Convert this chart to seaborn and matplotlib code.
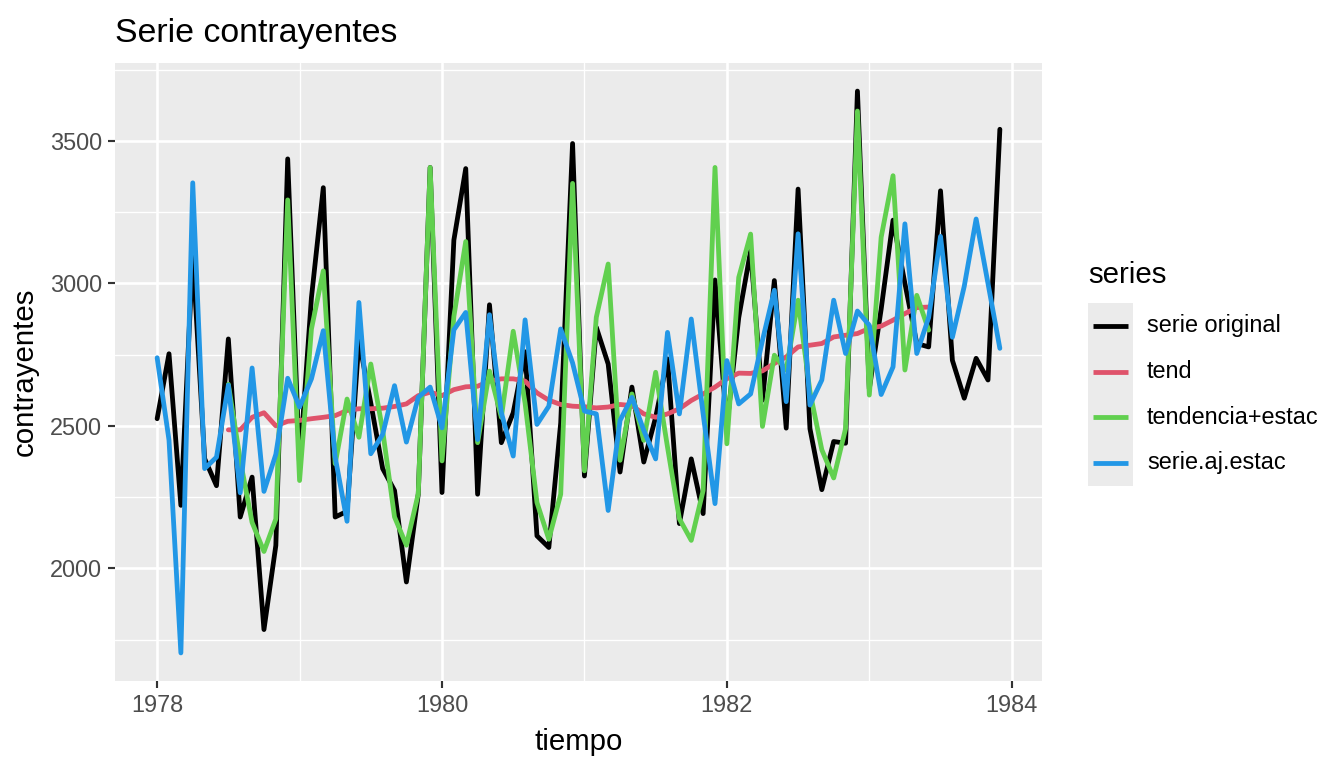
import numpy as np
import pandas as pd
import matplotlib
matplotlib.use("Agg")
import matplotlib.pyplot as plt
from matplotlib.lines import Line2D
from matplotlib.patches import Rectangle
from matplotlib.ticker import MultipleLocator
import seaborn as sns

# ---------------- data ----------------
start_year = 1978
n_months = 72

serie_original = [
    2525, 2753, 2221, 3100, 2385, 2290, 2805, 2180, 2320, 1785, 2080, 3437,
    2360, 2950, 3336, 2180, 2200, 2800, 2580, 2350, 2273, 1952, 2260, 3407,
    2266, 3152, 3403, 2260, 2925, 2441, 2546, 2760, 2114, 2073, 2510, 3491,
    2324, 2846, 2717, 2338, 2636, 2373, 2530, 2735, 2157, 2384, 2192, 3012,
    2500, 2880, 3114, 2590, 3010, 2492, 3331, 2490, 2276, 2445, 2439, 3675,
    2630, 2910, 3222, 3000, 2789, 2777, 3325, 2730, 2597, 2737, 2661, 3541,
]

serie_aj_estac = [
    2739, 2450, 1703, 3353, 2350, 2390, 2643, 2265, 2703, 2270, 2400, 2667,
    2566, 2665, 2834, 2390, 2165, 2933, 2402, 2470, 2641, 2443, 2600, 2636,
    2493, 2837, 2898, 2452, 2890, 2546, 2394, 2872, 2505, 2569, 2840, 2721,
    2552, 2542, 2203, 2519, 2600, 2484, 2384, 2828, 2542, 2875, 2542, 2227,
    2729, 2577, 2612, 2800, 2976, 2585, 3174, 2573, 2661, 2941, 2754, 2903,
    2853, 2610, 2707, 3209, 2754, 2880, 3165, 2811, 2990, 3226, 3000, 2772,
]

# trend and trend+seasonal exist from month 7 of 1978 to month 6 of 1983
trend_first = 6
tend = [
    2486, 2486, 2530, 2546, 2500, 2516,
    2519, 2525, 2530, 2536, 2554, 2560, 2560, 2562, 2568, 2577, 2606, 2618,
    2606, 2627, 2637, 2639, 2657, 2665, 2665, 2657, 2616, 2590, 2575, 2569,
    2567, 2563, 2566, 2575, 2571, 2542, 2530, 2542, 2560, 2589, 2612, 2636,
    2665, 2685, 2684, 2693, 2719, 2742, 2777, 2783, 2789, 2812, 2818, 2824,
    2842, 2850, 2871, 2894, 2915, 2917,
]
tendencia_estac = [
    2646, 2380, 2161, 2059, 2173, 3293,
    2308, 2840, 3044, 2367, 2594, 2460, 2717, 2484, 2180, 2081, 2262, 3407,
    2377, 2884, 3147, 2441, 2692, 2530, 2832, 2580, 2231, 2102, 2260, 3351,
    2342, 2881, 3068, 2379, 2612, 2449, 2688, 2425, 2174, 2098, 2273, 3407,
    2437, 3021, 3173, 2498, 2748, 2696, 2941, 2620, 2416, 2317, 2490, 3605,
    2608, 3162, 3378, 2696, 2958, 2836,
]

series_names = ["serie original", "tend", "tendencia+estac", "serie.aj.estac"]
series_colors = ["#000000", "#DF536B", "#61D04F", "#2297E6"]

# ---------------- build long table ----------------
tiempo = start_year + np.arange(n_months) / 12.0
t_trend = tiempo[trend_first:trend_first + len(tend)]
frames = [
    pd.DataFrame({"tiempo": tiempo, "contrayentes": serie_original, "series": series_names[0]}),
    pd.DataFrame({"tiempo": t_trend, "contrayentes": tend, "series": series_names[1]}),
    pd.DataFrame({"tiempo": t_trend, "contrayentes": tendencia_estac, "series": series_names[2]}),
    pd.DataFrame({"tiempo": tiempo, "contrayentes": serie_aj_estac, "series": series_names[3]}),
]
df = pd.concat(frames, ignore_index=True)

# ---------------- plot ----------------
sns.set_theme(style="darkgrid")
plt.rcParams["font.family"] = ["Liberation Sans", "DejaVu Sans"]

W, H, DPI = 1344, 768, 192
LW = 1.8
fig = plt.figure(figsize=(W / DPI, H / DPI), dpi=DPI)
ax = fig.add_axes([115 / W, 1 - 681 / H, (1042 - 115) / W, (681 - 63) / H])
ax.set_facecolor("#EBEBEB")

sns.lineplot(data=df, x="tiempo", y="contrayentes", hue="series",
             hue_order=series_names, palette=dict(zip(series_names, series_colors)),
             estimator=None, sort=True, linewidth=LW, legend=False, ax=ax)

# ggplot-like expansion
xmin, xmax = df["tiempo"].min(), df["tiempo"].max()
ymin, ymax = df["contrayentes"].min(), df["contrayentes"].max()
ax.set_xlim(xmin - 0.05 * (xmax - xmin), xmax + 0.05 * (xmax - xmin))
ax.set_ylim(ymin - 0.05 * (ymax - ymin), ymax + 0.05 * (ymax - ymin))

ax.xaxis.set_major_locator(MultipleLocator(2))
ax.xaxis.set_minor_locator(MultipleLocator(1))
ax.yaxis.set_major_locator(MultipleLocator(500))
ax.yaxis.set_minor_locator(MultipleLocator(250))
ax.set_xticks([1978, 1980, 1982, 1984])
ax.set_xticklabels(["1978", "1980", "1982", "1984"])

ax.grid(which="major", color="white", linewidth=1.0)
ax.grid(which="minor", color="white", linewidth=0.5)
ax.set_axisbelow(True)
for s in ax.spines.values():
    s.set_visible(False)

ax.tick_params(axis="both", which="major", length=2.75, width=0.8, color="#333333",
               labelsize=8.8, labelcolor="#4D4D4D", pad=2.2, direction="out",
               bottom=True, left=True)
ax.tick_params(axis="both", which="minor", length=0, bottom=False, left=False)

ax.set_xlabel("tiempo", fontsize=11, color="black", labelpad=4)
ax.set_ylabel("contrayentes", fontsize=11, color="black", labelpad=4)
ax.set_title("Serie contrayentes", fontsize=12.7, color="black", loc="left", pad=8)

# ---------------- legend (ggplot-like) ----------------
def fx(px):
    return px / W

def fy(py):
    return 1 - py / H

key_left, key_right = 1088, 1133
key_top, key_h = 303, 45.7
fig.text(fx(1088), fy(275), "series", fontsize=11, color="black", va="center", ha="left")
fig.add_artist(Rectangle((fx(key_left), fy(key_top + key_h * len(series_names))),
                         fx(key_right - key_left), (key_h * len(series_names)) / H,
                         transform=fig.transFigure, facecolor="#EBEBEB", edgecolor="none"))
for k, (name, col) in enumerate(zip(series_names, series_colors)):
    yc = key_top + key_h * (k + 0.5)
    fig.add_artist(Line2D([fx(key_left + 5), fx(key_right - 5)], [fy(yc), fy(yc)],
                          transform=fig.transFigure, color=col, linewidth=LW,
                          solid_capstyle="butt"))
    fig.text(fx(1147), fy(yc), name, fontsize=8.8, color="black", va="center", ha="left")

fig.savefig("out.png", dpi=DPI, facecolor="white")
